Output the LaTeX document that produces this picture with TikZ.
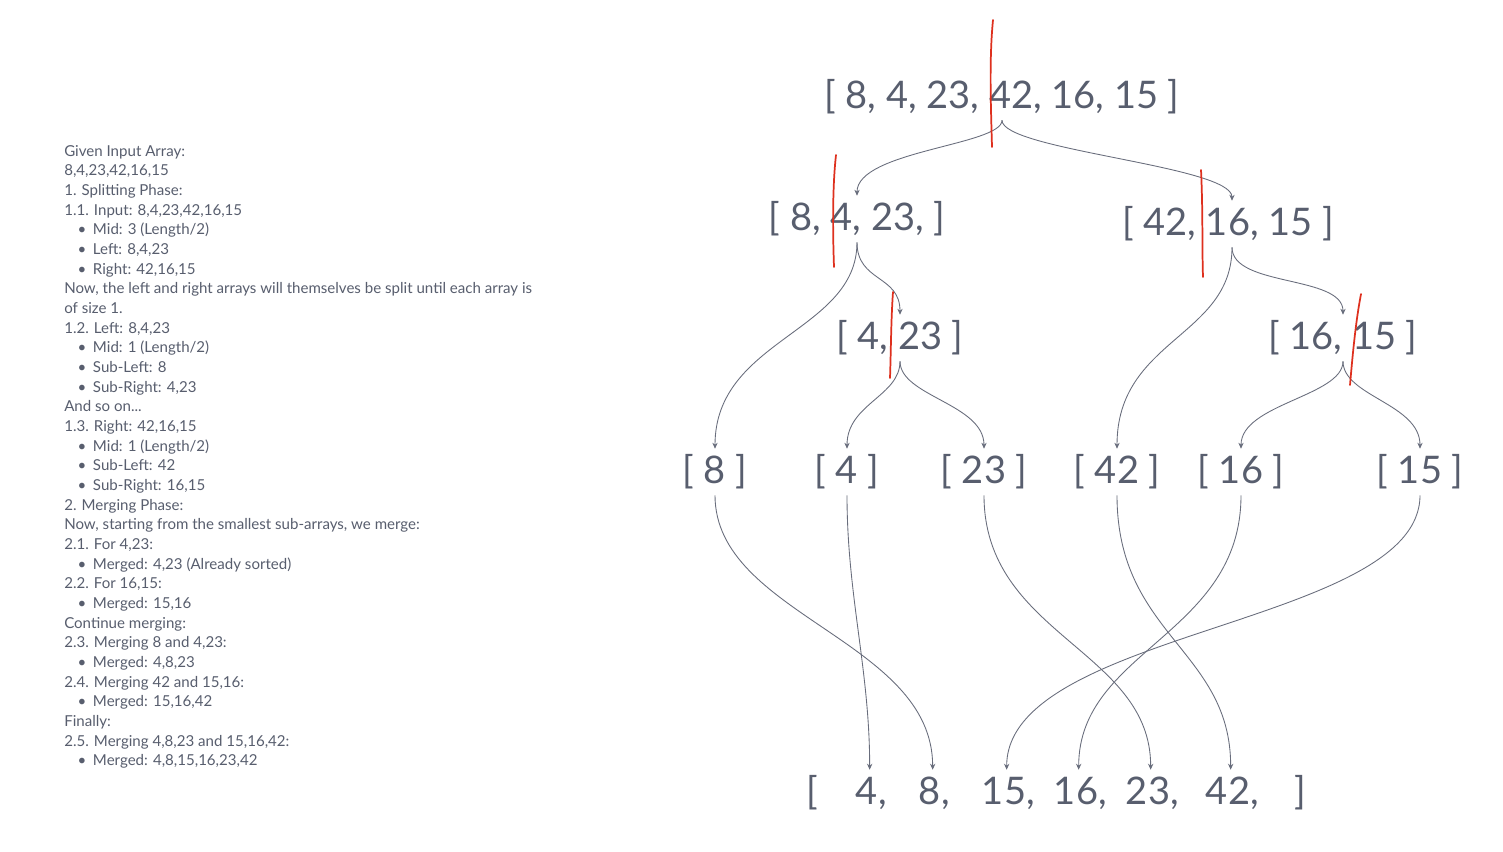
\documentclass[tikz,border=0pt]{standalone}
\usepackage{fontspec}
\setmainfont{Lato}
\usetikzlibrary{arrows.meta}
\definecolor{txt}{RGB}{88,94,110}
\definecolor{ln}{RGB}{104,109,124}
\definecolor{redl}{RGB}{222,48,30}
\tikzset{
  arr/.style={font=\fontsize{28.5}{31}\selectfont, text=txt, inner sep=0pt, minimum height=46pt*0.75},
  conn/.style={draw=ln, line width=0.65pt, -{Stealth[length=4.5pt,width=4pt]}},
  cut/.style={draw=redl, line width=1.3pt, line cap=round},
  notes/.style={font=\fontsize{11.3}{14.75}\selectfont, text=txt, align=left, inner sep=0pt, anchor=north west}
}
\newcommand{\bl}{\hspace*{10pt}\textbullet\hspace{5pt}}
\begin{document}
\begin{tikzpicture}[x=0.75pt,y=-0.75pt]
\useasboundingbox (0,0) rectangle (1503,852);
\fill[white] (0,0) rectangle (1503,852);

\node[notes] (notes) at (64,145) {Given Input Array:\\
8,4,23,42,16,15\\
1. Splitting Phase:\\
1.1. Input: 8,4,23,42,16,15\\
\bl Mid: 3 (Length/2)\\
\bl Left: 8,4,23\\
\bl Right: 42,16,15\\
Now, the left and right arrays will themselves be split until each array is\\
of size 1.\\
1.2. Left: 8,4,23\\
\bl Mid: 1 (Length/2)\\
\bl Sub-Left: 8\\
\bl Sub-Right: 4,23\\
And so on...\\
1.3. Right: 42,16,15\\
\bl Mid: 1 (Length/2)\\
\bl Sub-Left: 42\\
\bl Sub-Right: 16,15\\
2. Merging Phase:\\
Now, starting from the smallest sub-arrays, we merge:\\
2.1. For 4,23:\\
\bl Merged: 4,23 (Already sorted)\\
2.2. For 16,15:\\
\bl Merged: 15,16\\
Continue merging:\\
2.3. Merging 8 and 4,23:\\
\bl Merged: 4,8,23\\
2.4. Merging 42 and 15,16:\\
\bl Merged: 15,16,42\\
Finally:\\
2.5. Merging 4,8,23 and 15,16,42:\\
\bl Merged: 4,8,15,16,23,42};

% tree nodes
\node[arr] (top) at (1002,97) {[ 8, 4, 23, 42, 16, 15 ]};
\node[arr] (l) at (857,219) {[ 8, 4, 23, ]};
\node[arr] (r) at (1228,224) {[ 42, 16, 15 ]};
\node[arr] (lr) at (900,338) {[ 4, 23 ]};
\node[arr] (rr) at (1343,338) {[ 16, 15 ]};
\node[arr] (s8) at (715,472) {[ 8 ]};
\node[arr] (s4) at (847,472) {[ 4 ]};
\node[arr] (s23) at (984,472) {[ 23 ]};
\node[arr] (s42) at (1117,472) {[ 42 ]};
\node[arr] (s16) at (1241,472) {[ 16 ]};
\node[arr] (s15) at (1420,472) {[ 15 ]};
% result
\node[arr] (bo) at (812,793) {[};
\node[arr] (b4) at (867,793) {4\rlap{,}};
\node[arr] (b8) at (930,793) {8\rlap{,}};
\node[arr] (b15) at (1004,793) {15\rlap{,}};
\node[arr] (b16) at (1076,793) {16\rlap{,}};
\node[arr] (b23) at (1148,793) {23\rlap{,}};
\node[arr] (b42) at (1228,793) {42\rlap{,}};
\node[arr] (bc) at (1300,793) {]};

% splitting connectors
\draw[conn] (top.south) .. controls +(0,25) and +(0,-45) .. (l.north);
\draw[conn] (top.south) .. controls +(0,30) and +(0,-35) .. ([xshift=3pt]r.north);
\draw[conn] (l.south) .. controls +(0,90) and +(0,-110) .. (s8.north);
\draw[conn] (l.south) .. controls +(0,40) and +(0,-40) .. (lr.north);
\draw[conn] ([xshift=3pt]r.south) .. controls +(0,90) and +(0,-110) .. (s42.north);
\draw[conn] ([xshift=3pt]r.south) .. controls +(0,40) and +(0,-40) .. (rr.north);
\draw[conn] (lr.south) .. controls +(0,35) and +(0,-45) .. (s4.north);
\draw[conn] (lr.south) .. controls +(0,35) and +(0,-45) .. (s23.north);
\draw[conn] (rr.south) .. controls +(0,35) and +(0,-45) .. (s16.north);
\draw[conn] (rr.south) .. controls +(0,35) and +(0,-45) .. (s15.north);
% merging connectors
\draw[conn] (s8.south) .. controls +(0,120) and +(0,-130) .. ([xshift=2pt]b8.north);
\draw[conn] (s4.south) .. controls +(0,100) and +(0,-100) .. ([xshift=2pt]b4.north);
\draw[conn] (s23.south) .. controls +(0,140) and +(0,-120) .. ([xshift=2pt]b23.north);
\draw[conn] (s42.south) .. controls +(0,140) and +(0,-120) .. ([xshift=2pt]b42.north);
\draw[conn] (s16.south) .. controls +(0,140) and +(0,-120) .. ([xshift=2pt]b16.north);
\draw[conn] (s15.south) .. controls +(0,130) and +(0,-140) .. ([xshift=2pt]b15.north);

% red split marks
\draw[cut] (993,20) .. controls (989,60) and (991,110) .. (992,147);
\draw[cut] (836,155) .. controls (832,190) and (833,240) .. (834,267);
\draw[cut] (1201,170) .. controls (1203,210) and (1202,250) .. (1203,277);
\draw[cut] (893,292) .. controls (891,320) and (891,350) .. (890,378);
\draw[cut] (1361,294) .. controls (1356,320) and (1353,350) .. (1350,385);
\end{tikzpicture}
\end{document}
